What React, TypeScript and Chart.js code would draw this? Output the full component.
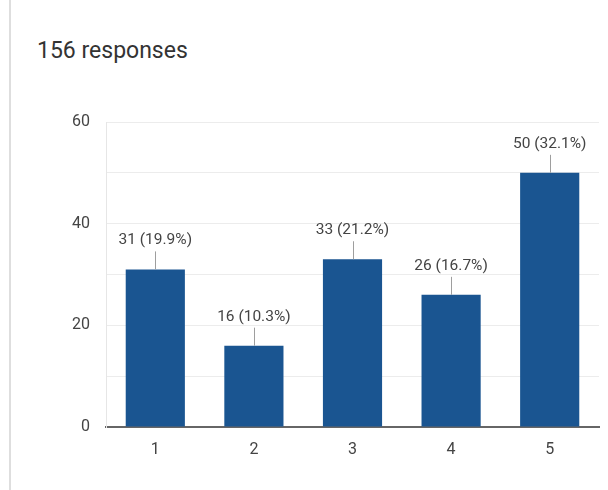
import React, { useEffect, useRef } from "react";
import { Chart, registerables } from "chart.js";

Chart.register(...registerables);

const categories = ["1", "2", "3", "4", "5"];
const counts = [31, 16, 33, 26, 50];
const totalResponses = 156;
const yTickLabels = [0, 20, 40, 60];

const barColor = "#1a5591";

const labelPlugin = {
  id: "barLabels",
  afterDatasetsDraw(chart: any) {
    const ctx = chart.ctx;
    const meta = chart.getDatasetMeta(0);
    ctx.save();
    meta.data.forEach((bar: any, i: number) => {
      const v = counts[i];
      const pct = ((v / totalResponses) * 100).toFixed(1);
      const text = `${v} (${pct}%)`;
      ctx.strokeStyle = "#9e9e9e";
      ctx.lineWidth = 1;
      ctx.beginPath();
      ctx.moveTo(Math.round(bar.x) + 0.5, bar.y);
      ctx.lineTo(Math.round(bar.x) + 0.5, bar.y - 18);
      ctx.stroke();
      ctx.fillStyle = "#444";
      ctx.font = "15.5px Roboto";
      ctx.textAlign = "center";
      ctx.textBaseline = "middle";
      ctx.fillText(text, bar.x, bar.y - 29);
    });
    ctx.restore();
  },
};

export default function App() {
  const canvasRef = useRef<HTMLCanvasElement | null>(null);

  useEffect(() => {
    if (!canvasRef.current) return;
    const chart = new Chart(canvasRef.current, {
      type: "bar",
      data: {
        labels: categories,
        datasets: [
          {
            data: counts,
            backgroundColor: barColor,
            barPercentage: 0.6,
            categoryPercentage: 1,
          },
        ],
      },
      options: {
        animation: false,
        responsive: false,
        maintainAspectRatio: false,
        layout: { padding: { left: 0, top: 122, right: 9, bottom: 0 } },
        plugins: { legend: { display: false }, tooltip: { enabled: false } },
        scales: {
          x: {
            afterFit: (s: any) => {
              s.height = 63;
            },
            grid: { display: false, drawTicks: false },
            border: { display: true, color: "#666", width: 2 },
            ticks: { color: "#444", font: { family: "Roboto", size: 16 }, padding: 13 },
          },
          y: {
            min: 0,
            max: 60,
            afterFit: (s: any) => {
              s.width = 106;
            },
            grid: { color: "#ececec", lineWidth: 1, drawTicks: false },
            border: { display: true, color: "#e6e6e6", width: 1 },
            ticks: {
              stepSize: 10,
              padding: 16,
              color: "#444",
              font: { family: "Roboto", size: 16 },
              callback: (v: any) => (yTickLabels.includes(Number(v)) ? String(v) : ""),
            },
          },
        },
      },
      plugins: [labelPlugin],
    });
    return () => chart.destroy();
  }, []);

  return (
    <div style={{ position: "absolute", left: 0, top: 0, width: 608, height: 490, background: "#fff", overflow: "hidden" }}>
      <div style={{ position: "absolute", left: 9, top: 0, width: 2, height: 490, background: "#dedede" }} />
      <div
        style={{
          position: "absolute",
          left: 37,
          top: 37,
          fontFamily: "Roboto",
          fontSize: 23,
          color: "#333",
          lineHeight: "28px",
        }}
      >
        156 responses
      </div>
      <canvas ref={canvasRef} width={608} height={490} style={{ position: "absolute", left: 0, top: 0 }} />
    </div>
  );
}
